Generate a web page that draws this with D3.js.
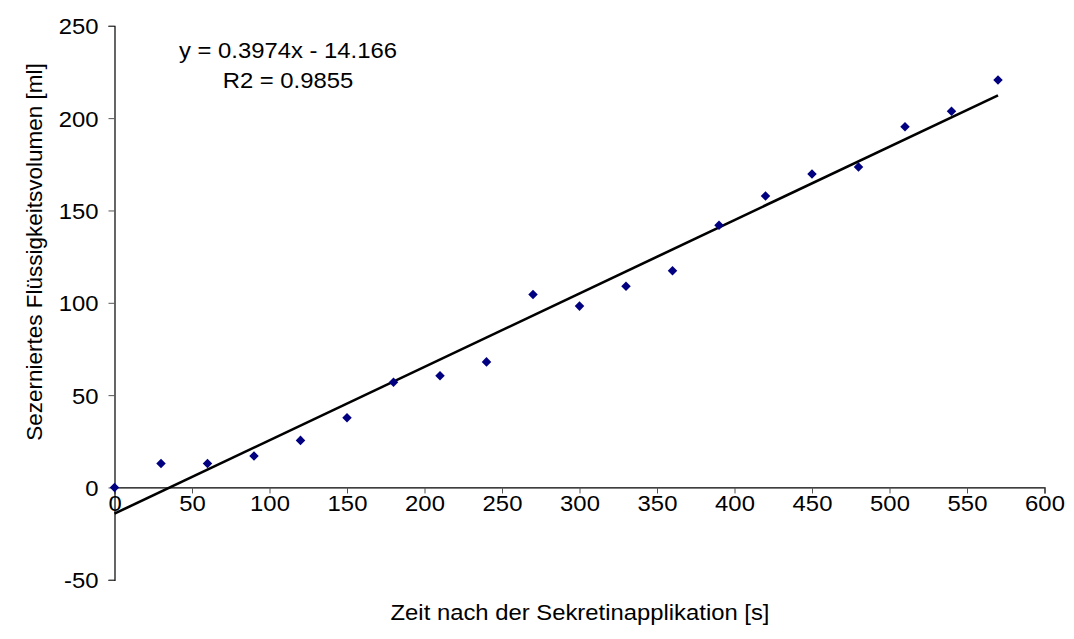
<!DOCTYPE html>
<html>
<head>
<meta charset="utf-8">
<script src="https://cdn.jsdelivr.net/npm/d3@7"></script>
<style>
  body { margin: 0; background: #fff; }
  text { font-family: Arial, "Liberation Sans", sans-serif; fill: #000; }
</style>
</head>
<body>
<svg id="chart" width="1074" height="639"></svg>
<script>
// data
var times = [0, 30, 60, 90, 120, 150, 180, 210, 240, 270, 300, 330, 360, 390, 420, 450, 480, 510, 540, 570];
var volumes = [0, 13, 13, 17, 25.5, 37.7, 57, 60.5, 68, 104.5, 98.2, 109, 117.3, 142, 157.8, 169.7, 173.5, 195.3, 203.7, 220.6];
var xTicks = [0, 50, 100, 150, 200, 250, 300, 350, 400, 450, 500, 550, 600];
var yTicks = [-50, 0, 50, 100, 150, 200, 250];
var slope = 0.3974, intercept = -14.166;
var eqLines = ["y = 0.3974x - 14.166", "R2 = 0.9855"];
var xTitle = "Zeit nach der Sekretinapplikation [s]";
var yTitle = "Sezerniertes Flüssigkeitsvolumen [ml]";

var fs = 22.5;   // font size
var sx = 1.06;   // text in the original is a bit wide

var svg = d3.select("#chart");

var x = d3.scaleLinear().domain([0, 600]).range([114.5, 1044.5]);
var y = d3.scaleLinear().domain([-50, 250]).range([579.8, 25.8]);

var fmt = function(d){ return String(d); };  // plain hyphen for -50

// y axis
var yAxis = svg.append("g")
  .attr("transform", "translate(" + x(0) + ",0)")
  .call(d3.axisLeft(y).tickValues(yTicks).tickSize(6).tickPadding(10).tickFormat(fmt));
yAxis.select(".domain").attr("stroke", "#000").attr("stroke-width", 1.2);
yAxis.selectAll(".tick line").attr("stroke", "#555");
yAxis.selectAll(".tick text")
  .style("font-size", fs + "px")
  .attr("dy", "0.36em")
  .attr("x", -16 / sx)
  .attr("transform", "scale(" + sx + ",1)");

// x axis at y = 0
var xAxis = svg.append("g")
  .attr("transform", "translate(0," + y(0) + ")")
  .call(d3.axisBottom(x).tickValues(xTicks).tickSize(6).tickPadding(2).tickFormat(fmt));
xAxis.select(".domain").attr("stroke", "#000").attr("stroke-width", 1.2);
xAxis.selectAll(".tick line").attr("stroke", "#555");
xAxis.selectAll(".tick text")
  .style("font-size", fs + "px")
  .attr("transform", "scale(" + sx + ",1)");

// trend line
svg.append("line")
  .attr("x1", x(0)).attr("y1", y(intercept))
  .attr("x2", x(570)).attr("y2", y(slope * 570 + intercept))
  .attr("stroke", "#000").attr("stroke-width", 2.6);

// points
var pts = times.map(function(t, i){ return {t: t, v: volumes[i]}; });
svg.append("g").selectAll("path")
  .data(pts)
  .enter().append("path")
  .attr("d", d3.symbol().type(d3.symbolDiamond2).size(58))
  .attr("transform", function(d){ return "translate(" + x(d.t) + "," + y(d.v) + ")"; })
  .attr("fill", "#000080");

// equation
svg.append("g").selectAll("text")
  .data(eqLines)
  .enter().append("text")
  .attr("transform", function(d, i){ return "translate(288," + (58 + i * 29.5) + ") scale(" + sx + ",1)"; })
  .attr("text-anchor", "middle")
  .style("font-size", fs + "px")
  .text(function(d){ return d; });

// titles
svg.append("text")
  .attr("transform", "translate(580,620) scale(" + sx + ",1)")
  .attr("text-anchor", "middle")
  .style("font-size", fs + "px")
  .text(xTitle);

svg.append("text")
  .attr("transform", "translate(42,252) rotate(-90)")
  .attr("text-anchor", "middle")
  .style("font-size", fs + "px")
  .text(yTitle);
</script>
</body>
</html>
